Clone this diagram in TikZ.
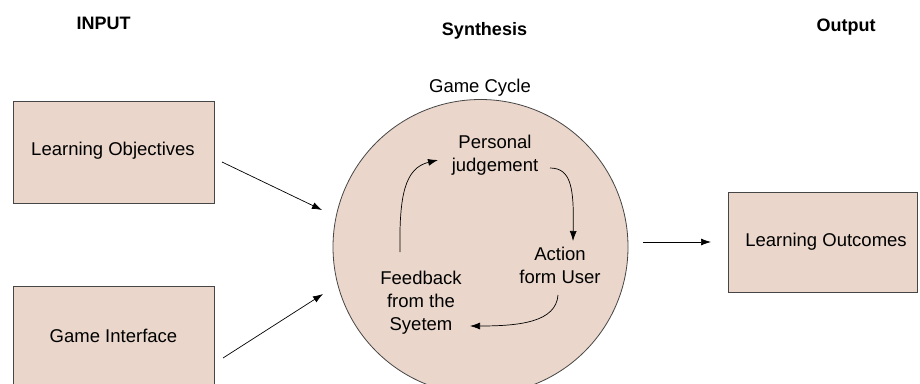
\documentclass[tikz,border=0pt]{standalone}
\usepackage{fontspec}
\setmainfont{Liberation Sans}
\usetikzlibrary{arrows.meta}
\definecolor{boxfill}{RGB}{234,214,202}
\definecolor{edge}{RGB}{70,70,70}
\tikzset{
  blk/.style={draw=edge, line width=0.8pt, fill=boxfill},
  lbl/.style={font=\fontsize{18.5}{23}\selectfont, align=center, inner sep=0pt},
  hdr/.style={font=\fontsize{18}{21}\selectfont\bfseries, inner sep=0pt},
  arr/.style={-{Latex[length=10pt,width=7pt]}, line width=0.7pt, draw=black},
}
\begin{document}
\begin{tikzpicture}[x=1pt,y=-1pt]
\useasboundingbox (0,0) rectangle (920,383);
\clip (0,0) rectangle (920,383);
% headers
\node[hdr] (hin) at (103.5,23) {INPUT};
\node[hdr] (hsyn) at (484.5,31) {Synthesis};
\node[hdr] (hout) at (846,27) {Output};
% boxes
\path[blk] (13,101) rectangle (214,203);
\node[lbl] (lo) at (113,151) {Learning Objectives};
\path[blk] (13,286) rectangle (214,400);
\node[lbl] (gi) at (113.5,336) {Game Interface};
\path[blk] (728,192) rectangle (917,292);
\node[lbl] (out) at (826,242) {Learning Outcomes};
% circle
\draw[blk] (480.5,247) circle[radius=147.5];
\node[lbl] (gc) at (480,88) {Game Cycle};
\node[lbl] (pj) at (495,155) {Personal\\judgement};
\node[lbl] (af) at (560,265) {Action\\form User};
\node[lbl] (fb) at (421,303) {Feedback\\from the\\Syetem};
% coordinates for arrows
\coordinate (a1s) at (222,162);
\coordinate (a1e) at (322,210);
\coordinate (a2s) at (223,358);
\coordinate (a2e) at (323,294);
\coordinate (a3s) at (643,242);
\coordinate (a3e) at (711,242);
\draw[arr] (a1s) -- (a1e);
\draw[arr] (a2s) -- (a2e);
\draw[arr] (a3s) -- (a3e);
% cycle arrows
\coordinate (c1s) at (400,252);
\coordinate (c1e) at (438,160);
\coordinate (c2s) at (550,168);
\coordinate (c2e) at (573,241);
\coordinate (c3s) at (558,295);
\coordinate (c3e) at (470,326);
\draw[arr] (c1s) .. controls (399,195) and (405,168) .. (c1e);
\draw[arr] (c2s) .. controls (572,168) and (574,190) .. (c2e);
\draw[arr] (c3s) .. controls (556,322) and (520,326) .. (c3e);
\end{tikzpicture}
\end{document}
